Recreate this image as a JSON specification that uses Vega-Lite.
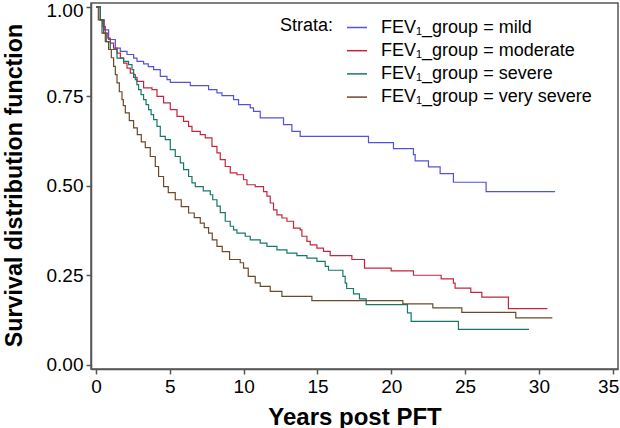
{
  "$schema": "https://vega.github.io/schema/vega-lite/v6.json",
  "width": 527,
  "height": 366,
  "autosize": {"type": "none"},
  "padding": {"left": 91, "top": 3, "right": 2, "bottom": 59},
  "background": "white",
  "config": {
    "font": "Liberation Sans",
    "view": {"stroke": "#555555", "strokeWidth": 1.5},
    "axis": {
      "grid": false,
      "domainColor": "#555555",
      "domainWidth": 1.5,
      "tickColor": "#555555",
      "tickWidth": 1.5,
      "tickSize": 5,
      "labelFontSize": 19,
      "labelColor": "#000000",
      "labelPadding": 3,
      "titleFontSize": 24,
      "titleFontWeight": "bold",
      "titleColor": "#000000"
    }
  },
  "datasets": {
    "km": [
      {"g": "mild", "t": 0, "s": 1},
      {"g": "mild", "t": 0.29, "s": 0.964},
      {"g": "mild", "t": 0.56, "s": 0.936},
      {"g": "mild", "t": 0.853, "s": 0.909},
      {"g": "mild", "t": 1.307, "s": 0.885},
      {"g": "mild", "t": 1.646, "s": 0.876},
      {"g": "mild", "t": 2.099, "s": 0.867},
      {"g": "mild", "t": 2.546, "s": 0.857},
      {"g": "mild", "t": 2.776, "s": 0.848},
      {"g": "mild", "t": 3.223, "s": 0.841},
      {"g": "mild", "t": 3.541, "s": 0.833},
      {"g": "mild", "t": 3.9, "s": 0.825},
      {"g": "mild", "t": 4.353, "s": 0.806},
      {"g": "mild", "t": 4.807, "s": 0.797},
      {"g": "mild", "t": 5.031, "s": 0.789},
      {"g": "mild", "t": 6.385, "s": 0.78},
      {"g": "mild", "t": 7.624, "s": 0.769},
      {"g": "mild", "t": 8.192, "s": 0.76},
      {"g": "mild", "t": 8.531, "s": 0.752},
      {"g": "mild", "t": 9.316, "s": 0.741},
      {"g": "mild", "t": 9.655, "s": 0.727},
      {"g": "mild", "t": 10.447, "s": 0.718},
      {"g": "mild", "t": 10.67, "s": 0.708},
      {"g": "mild", "t": 11.124, "s": 0.69},
      {"g": "mild", "t": 12.701, "s": 0.671},
      {"g": "mild", "t": 13.27, "s": 0.652},
      {"g": "mild", "t": 13.832, "s": 0.638},
      {"g": "mild", "t": 18.457, "s": 0.621},
      {"g": "mild", "t": 20.149, "s": 0.604},
      {"g": "mild", "t": 21.503, "s": 0.587},
      {"g": "mild", "t": 21.618, "s": 0.57},
      {"g": "mild", "t": 22.519, "s": 0.553},
      {"g": "mild", "t": 23.311, "s": 0.534},
      {"g": "mild", "t": 24.211, "s": 0.51},
      {"g": "mild", "t": 26.425, "s": 0.484},
      {"g": "mild", "t": 31.097, "s": 0.484},

      {"g": "moderate", "t": 0, "s": 1},
      {"g": "moderate", "t": 0.29, "s": 0.964},
      {"g": "moderate", "t": 0.46, "s": 0.945},
      {"g": "moderate", "t": 0.63, "s": 0.927},
      {"g": "moderate", "t": 0.8, "s": 0.913},
      {"g": "moderate", "t": 0.968, "s": 0.899},
      {"g": "moderate", "t": 1.19, "s": 0.885},
      {"g": "moderate", "t": 1.422, "s": 0.871},
      {"g": "moderate", "t": 1.65, "s": 0.857},
      {"g": "moderate", "t": 1.869, "s": 0.843},
      {"g": "moderate", "t": 2.1, "s": 0.829},
      {"g": "moderate", "t": 2.322, "s": 0.815},
      {"g": "moderate", "t": 2.55, "s": 0.803},
      {"g": "moderate", "t": 2.776, "s": 0.792},
      {"g": "moderate", "t": 3.223, "s": 0.774},
      {"g": "moderate", "t": 3.791, "s": 0.769},
      {"g": "moderate", "t": 4.13, "s": 0.75},
      {"g": "moderate", "t": 4.577, "s": 0.732},
      {"g": "moderate", "t": 5.031, "s": 0.713},
      {"g": "moderate", "t": 5.484, "s": 0.694},
      {"g": "moderate", "t": 5.931, "s": 0.68},
      {"g": "moderate", "t": 6.27, "s": 0.666},
      {"g": "moderate", "t": 6.5, "s": 0.652},
      {"g": "moderate", "t": 7.062, "s": 0.643},
      {"g": "moderate", "t": 7.4, "s": 0.634},
      {"g": "moderate", "t": 7.854, "s": 0.61},
      {"g": "moderate", "t": 8.192, "s": 0.592},
      {"g": "moderate", "t": 8.416, "s": 0.573},
      {"g": "moderate", "t": 8.754, "s": 0.554},
      {"g": "moderate", "t": 9.093, "s": 0.536},
      {"g": "moderate", "t": 9.546, "s": 0.531},
      {"g": "moderate", "t": 9.993, "s": 0.517},
      {"g": "moderate", "t": 10.223, "s": 0.503},
      {"g": "moderate", "t": 10.785, "s": 0.498},
      {"g": "moderate", "t": 11.347, "s": 0.484},
      {"g": "moderate", "t": 11.578, "s": 0.471},
      {"g": "moderate", "t": 11.801, "s": 0.452},
      {"g": "moderate", "t": 12.024, "s": 0.433},
      {"g": "moderate", "t": 12.255, "s": 0.419},
      {"g": "moderate", "t": 12.593, "s": 0.41},
      {"g": "moderate", "t": 12.932, "s": 0.401},
      {"g": "moderate", "t": 13.379, "s": 0.382},
      {"g": "moderate", "t": 13.832, "s": 0.377},
      {"g": "moderate", "t": 13.947, "s": 0.359},
      {"g": "moderate", "t": 14.286, "s": 0.345},
      {"g": "moderate", "t": 14.509, "s": 0.335},
      {"g": "moderate", "t": 14.963, "s": 0.326},
      {"g": "moderate", "t": 15.41, "s": 0.317},
      {"g": "moderate", "t": 15.863, "s": 0.305},
      {"g": "moderate", "t": 17.333, "s": 0.294},
      {"g": "moderate", "t": 18.186, "s": 0.27},
      {"g": "moderate", "t": 19.993, "s": 0.262},
      {"g": "moderate", "t": 21.503, "s": 0.25},
      {"g": "moderate", "t": 23.379, "s": 0.24},
      {"g": "moderate", "t": 24.211, "s": 0.228},
      {"g": "moderate", "t": 24.326, "s": 0.214},
      {"g": "moderate", "t": 25.389, "s": 0.202},
      {"g": "moderate", "t": 26.134, "s": 0.189},
      {"g": "moderate", "t": 27.935, "s": 0.157},
      {"g": "moderate", "t": 30.576, "s": 0.157},

      {"g": "severe", "t": 0, "s": 1},
      {"g": "severe", "t": 0.291, "s": 0.964},
      {"g": "severe", "t": 0.515, "s": 0.927},
      {"g": "severe", "t": 0.697, "s": 0.903},
      {"g": "severe", "t": 0.968, "s": 0.881},
      {"g": "severe", "t": 1.422, "s": 0.857},
      {"g": "severe", "t": 1.869, "s": 0.848},
      {"g": "severe", "t": 2.207, "s": 0.839},
      {"g": "severe", "t": 2.437, "s": 0.825},
      {"g": "severe", "t": 2.55, "s": 0.811},
      {"g": "severe", "t": 2.661, "s": 0.797},
      {"g": "severe", "t": 2.77, "s": 0.783},
      {"g": "severe", "t": 2.884, "s": 0.769},
      {"g": "severe", "t": 3.05, "s": 0.755},
      {"g": "severe", "t": 3.223, "s": 0.741},
      {"g": "severe", "t": 3.39, "s": 0.727},
      {"g": "severe", "t": 3.561, "s": 0.713},
      {"g": "severe", "t": 3.73, "s": 0.699},
      {"g": "severe", "t": 3.9, "s": 0.685},
      {"g": "severe", "t": 4.13, "s": 0.666},
      {"g": "severe", "t": 4.353, "s": 0.638},
      {"g": "severe", "t": 4.692, "s": 0.629},
      {"g": "severe", "t": 5.031, "s": 0.601},
      {"g": "severe", "t": 5.369, "s": 0.582},
      {"g": "severe", "t": 5.708, "s": 0.564},
      {"g": "severe", "t": 5.931, "s": 0.545},
      {"g": "severe", "t": 6.27, "s": 0.526},
      {"g": "severe", "t": 6.5, "s": 0.508},
      {"g": "severe", "t": 6.723, "s": 0.498},
      {"g": "severe", "t": 7.265, "s": 0.486},
      {"g": "severe", "t": 7.739, "s": 0.475},
      {"g": "severe", "t": 7.908, "s": 0.461},
      {"g": "severe", "t": 8.192, "s": 0.443},
      {"g": "severe", "t": 8.416, "s": 0.425},
      {"g": "severe", "t": 8.754, "s": 0.401},
      {"g": "severe", "t": 9.093, "s": 0.387},
      {"g": "severe", "t": 9.316, "s": 0.377},
      {"g": "severe", "t": 9.546, "s": 0.368},
      {"g": "severe", "t": 10.108, "s": 0.359},
      {"g": "severe", "t": 10.447, "s": 0.349},
      {"g": "severe", "t": 11.124, "s": 0.34},
      {"g": "severe", "t": 11.578, "s": 0.331},
      {"g": "severe", "t": 12.255, "s": 0.321},
      {"g": "severe", "t": 12.932, "s": 0.312},
      {"g": "severe", "t": 13.609, "s": 0.305},
      {"g": "severe", "t": 14.286, "s": 0.298},
      {"g": "severe", "t": 14.963, "s": 0.289},
      {"g": "severe", "t": 15.525, "s": 0.275},
      {"g": "severe", "t": 15.748, "s": 0.264},
      {"g": "severe", "t": 16.723, "s": 0.247},
      {"g": "severe", "t": 16.879, "s": 0.228},
      {"g": "severe", "t": 16.98, "s": 0.213},
      {"g": "severe", "t": 17.441, "s": 0.198},
      {"g": "severe", "t": 17.847, "s": 0.184},
      {"g": "severe", "t": 18.301, "s": 0.168},
      {"g": "severe", "t": 21.097, "s": 0.145},
      {"g": "severe", "t": 21.347, "s": 0.121},
      {"g": "severe", "t": 24.55, "s": 0.099},
      {"g": "severe", "t": 29.337, "s": 0.099},

      {"g": "very severe", "t": 0, "s": 1},
      {"g": "very severe", "t": 0.156, "s": 0.964},
      {"g": "very severe", "t": 0.406, "s": 0.927},
      {"g": "very severe", "t": 0.63, "s": 0.903},
      {"g": "very severe", "t": 0.853, "s": 0.881},
      {"g": "very severe", "t": 1.036, "s": 0.858},
      {"g": "very severe", "t": 1.192, "s": 0.834},
      {"g": "very severe", "t": 1.307, "s": 0.811},
      {"g": "very severe", "t": 1.422, "s": 0.788},
      {"g": "very severe", "t": 1.578, "s": 0.763},
      {"g": "very severe", "t": 1.76, "s": 0.741},
      {"g": "very severe", "t": 1.848, "s": 0.724},
      {"g": "very severe", "t": 1.984, "s": 0.704},
      {"g": "very severe", "t": 2.255, "s": 0.682},
      {"g": "very severe", "t": 2.546, "s": 0.662},
      {"g": "very severe", "t": 2.796, "s": 0.643},
      {"g": "very severe", "t": 3.067, "s": 0.623},
      {"g": "very severe", "t": 3.338, "s": 0.607},
      {"g": "very severe", "t": 3.676, "s": 0.582},
      {"g": "very severe", "t": 4.015, "s": 0.554},
      {"g": "very severe", "t": 4.238, "s": 0.526},
      {"g": "very severe", "t": 4.577, "s": 0.498},
      {"g": "very severe", "t": 4.895, "s": 0.481},
      {"g": "very severe", "t": 5.369, "s": 0.461},
      {"g": "very severe", "t": 5.775, "s": 0.442},
      {"g": "very severe", "t": 6.27, "s": 0.424},
      {"g": "very severe", "t": 6.655, "s": 0.411},
      {"g": "very severe", "t": 7.062, "s": 0.396},
      {"g": "very severe", "t": 7.333, "s": 0.383},
      {"g": "very severe", "t": 7.624, "s": 0.368},
      {"g": "very severe", "t": 7.874, "s": 0.349},
      {"g": "very severe", "t": 8.192, "s": 0.331},
      {"g": "very severe", "t": 8.551, "s": 0.316},
      {"g": "very severe", "t": 9.045, "s": 0.294},
      {"g": "very severe", "t": 9.77, "s": 0.285},
      {"g": "very severe", "t": 9.993, "s": 0.27},
      {"g": "very severe", "t": 10.312, "s": 0.247},
      {"g": "very severe", "t": 10.785, "s": 0.229},
      {"g": "very severe", "t": 11.124, "s": 0.219},
      {"g": "very severe", "t": 11.801, "s": 0.205},
      {"g": "very severe", "t": 12.593, "s": 0.191},
      {"g": "very severe", "t": 14.624, "s": 0.179},
      {"g": "very severe", "t": 20.786, "s": 0.17},
      {"g": "very severe", "t": 22.817, "s": 0.159},
      {"g": "very severe", "t": 24.78, "s": 0.146},
      {"g": "very severe", "t": 28.436, "s": 0.131},
      {"g": "very severe", "t": 30.914, "s": 0.131}
    ]
  },
  "data": {"name": "km"},
  "mark": {"type": "line", "interpolate": "step-after", "strokeWidth": 1.2},
  "encoding": {
    "x": {
      "field": "t",
      "type": "quantitative",
      "scale": {"domain": [-0.34, 35.36], "nice": false, "zero": false},
      "axis": {
        "values": [0, 5, 10, 15, 20, 25, 30, 35],
        "labelOffset": {"condition": {"test": "datum.value == 35", "value": -4.5}, "value": 0},
        "title": "Years post PFT",
        "titleBaseline": "alphabetic",
        "titleY": 55
      }
    },
    "y": {
      "field": "s",
      "type": "quantitative",
      "scale": {"domain": [-0.012, 1.011], "nice": false, "zero": false},
      "axis": {
        "values": [0, 0.25, 0.5, 0.75, 1],
        "format": ".2f",
        "labelOffset": {"condition": {"test": "datum.value == 1", "value": 4}, "value": 0},
        "title": "Survival distribution function",
        "titleFontSize": 23.3,
        "titleBaseline": "alphabetic",
        "titleX": -70,
        "titleY": 182
      }
    },
    "color": {
      "field": "g",
      "type": "nominal",
      "scale": {
        "domain": ["mild", "moderate", "severe", "very severe"],
        "range": ["#5252dc", "#c4263e", "#15786a", "#6b4a2b"]
      },
      "legend": {
        "orient": "none",
        "legendX": 189,
        "legendY": 13.5,
        "title": "Strata:",
        "titleOrient": "left",
        "titleAnchor": "start",
        "titleFontSize": 18,
        "titleFontWeight": "normal",
        "titleColor": "#000000",
        "titlePadding": 12,
        "labelFontSize": 18,
        "labelColor": "#000000",
        "labelExpr": "'FEV₁_group = ' + datum.label",
        "labelOffset": 13,
        "labelLimit": 400,
        "symbolType": "stroke",
        "symbolSize": 400,
        "symbolStrokeWidth": 1.5,
        "rowPadding": 3.2
      }
    }
  }
}
